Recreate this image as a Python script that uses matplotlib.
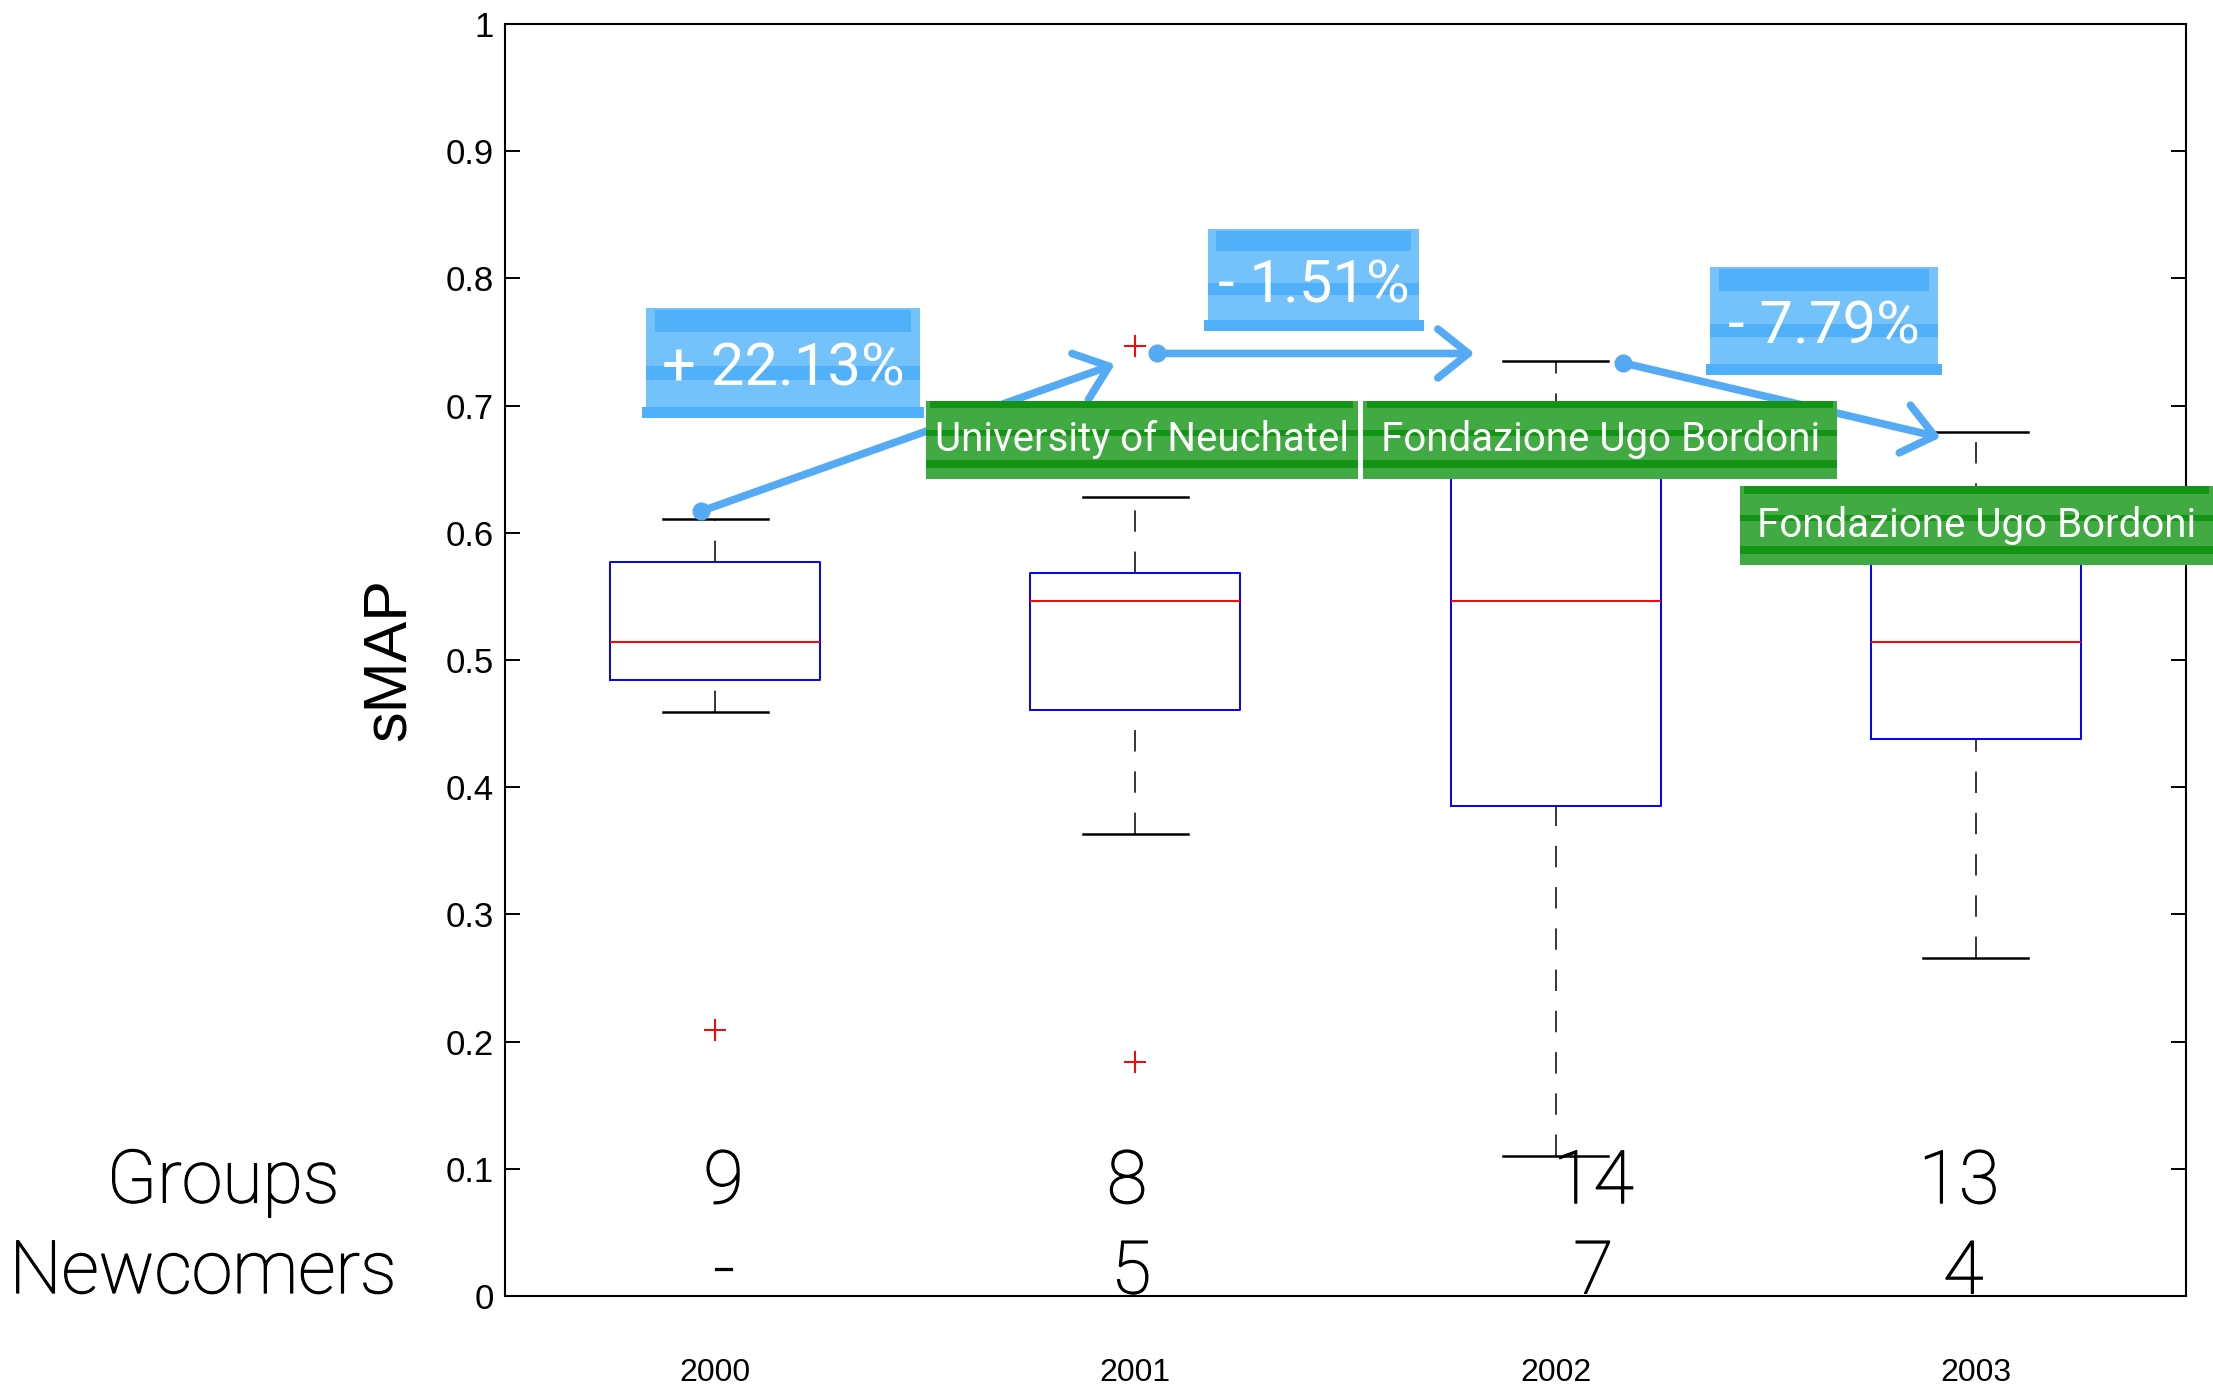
import matplotlib
matplotlib.use("Agg")
import matplotlib.pyplot as plt
import matplotlib.patheffects as pe
from matplotlib.patches import Rectangle

# box statistics (sMAP per year)
years = ['2000', '2001', '2002', '2003']
medians = [0.514, 0.546, 0.546, 0.514]
q1s = [0.484, 0.461, 0.385, 0.438]
q3s = [0.577, 0.568, 0.660, 0.590]
whis_lo = [0.459, 0.363, 0.110, 0.266]
whis_hi = [0.611, 0.628, 0.735, 0.679]
fliers = [[0.209], [0.747, 0.184], [], []]

groups = ['9', '8', '14', '13']
newcomers = ['-', '5', '7', '4']
groups_x = [1.02, 1.98, 3.09, 3.96]
newcomers_x = [1.02, 1.99, 3.09, 3.97]

changes = ['+ 22.13%', '- 1.51%', '- 7.79%']
best_groups = ['University of Neuchatel', 'Fondazione Ugo Bordoni', 'Fondazione Ugo Bordoni']

# annotation layout (data coords): x0, x1, y0, y1
change_boxes = [(0.836, 1.487, 0.690, 0.777),
                (2.173, 2.676, 0.759, 0.839),
                (3.368, 3.909, 0.724, 0.809)]
group_boxes = [(1.501, 2.529, 0.642, 0.704),
               (2.542, 3.670, 0.642, 0.704),
               (3.439, 4.564, 0.575, 0.637)]
arrows = [((0.967, 0.617), (1.951, 0.7325)),
          ((2.052, 0.741), (2.807, 0.741)),
          ((3.160, 0.7336), (3.916, 0.675))]

SANS = ['Roboto', 'DejaVu Sans']
BLUE_L, BLUE_D = '#74c2fb', '#50b0fa'
GREEN_L, GREEN_D = '#42aa42', '#149414'


def highlight(ax, box, light, dark, strips, z):
    x0, x1, y0, y1 = box
    h = y1 - y0
    ax.add_patch(Rectangle((x0, y0), x1 - x0, h, facecolor=light,
                           edgecolor='none', zorder=z, clip_on=False))
    for a, b, dx in strips:
        ax.add_patch(Rectangle((x0 + dx, y0 + a * h), x1 - x0 - 2 * dx, (b - a) * h,
                               facecolor=dark, edgecolor='none', zorder=z, clip_on=False))


def main():
    plt.rcParams['font.family'] = ['Liberation Sans', 'DejaVu Sans']
    fig = plt.figure(figsize=(22.13, 13.89), dpi=100)
    ax = fig.add_axes([0.2282, 0.0670, 0.7596, 0.9157])

    stats = []
    for i in range(len(years)):
        stats.append(dict(med=medians[i], q1=q1s[i], q3=q3s[i],
                          whislo=whis_lo[i], whishi=whis_hi[i], fliers=fliers[i]))

    bp = ax.bxp(stats, positions=range(1, len(years) + 1), widths=0.5,
                boxprops=dict(color='blue', linewidth=1.4),
                medianprops=dict(color='red', linewidth=1.4),
                whiskerprops=dict(color='black', linewidth=1.1, linestyle=(0, (14, 13))),
                capprops=dict(color='black', linewidth=1.8),
                flierprops=dict(marker='+', markeredgecolor='red', markersize=16,
                                markeredgewidth=1.4, linestyle='none'))
    # matlab draws the lower whisker upward from the cap
    for w in bp['whiskers'][0::2]:
        w.set_ydata(w.get_ydata()[::-1])

    ax.set_xlim(0.5, 4.5)
    ax.set_ylim(0, 1)
    ax.set_yticks([i / 10 for i in range(11)])
    ax.set_yticklabels(['0', '0.1', '0.2', '0.3', '0.4', '0.5', '0.6', '0.7', '0.8', '0.9', '1'])
    ax.set_xticks(range(1, len(years) + 1))
    ax.set_xticklabels(years)
    ax.tick_params(axis='y', direction='in', left=True, right=True, length=11,
                   width=1.4, labelsize=25, pad=8)
    ax.tick_params(axis='x', length=0, labelsize=23, pad=45)
    for s in ax.spines.values():
        s.set_linewidth(1.5)

    ax.set_ylabel('sMAP', fontsize=44)
    ax.yaxis.set_label_coords(-0.052, 0.5)

    # counts below the boxes (light font, slightly thickened)
    thick = [pe.Stroke(linewidth=0.9, foreground='black'), pe.Normal()]
    big = dict(fontsize=53, family=SANS, fontweight='light', path_effects=thick)
    for x, t in zip(groups_x, groups):
        ax.text(x, 0.073, t, ha='center', va='baseline', zorder=6, **big)
    for x, t in zip(newcomers_x, newcomers):
        ax.text(x, 0.002, t, ha='center', va='baseline', zorder=6, **big)
    fig.text(0.1008, 0.1343, 'Groups', ha='center', va='baseline', **big)
    fig.text(0.0918, 0.0691, 'Newcomers', ha='center', va='baseline', **big)

    # hand-drawn arrows between years
    for (p0, p1) in arrows:
        ax.annotate('', xy=p1, xytext=p0, zorder=3,
                    arrowprops=dict(arrowstyle='->,head_length=1.0,head_width=0.8',
                                    mutation_scale=22, color='#55aaf5', lw=5.5,
                                    capstyle='round', joinstyle='round',
                                    shrinkA=0, shrinkB=0))
        ax.plot([p0[0]], [p0[1]], 'o', color='#55aaf5', markersize=12, zorder=3)

    # relative change highlights
    for box, t in zip(change_boxes, changes):
        highlight(ax, box, BLUE_L, BLUE_D,
                  [(0.78, 0.98, 0.02), (0.35, 0.47, 0.0), (0.0, 0.1, -0.01)], 4)
        ax.text((box[0] + box[1]) / 2, (box[2] + box[3]) / 2 - 0.005, t,
                ha='center', va='center', color='white', fontsize=43,
                family=SANS, fontweight='normal', zorder=5)

    # best group labels
    for box, t in zip(group_boxes, best_groups):
        highlight(ax, box, GREEN_L, GREEN_D,
                  [(0.9, 1.0, 0.01), (0.55, 0.63, 0.0), (0.14, 0.24, 0.0)], 5)
        ax.text((box[0] + box[1]) / 2, (box[2] + box[3]) / 2, t,
                ha='center', va='center', color='white', fontsize=29,
                family=SANS, fontweight='normal', zorder=6, clip_on=False)

    plt.savefig('out.png', dpi=100)


if __name__ == "__main__":
    main()
